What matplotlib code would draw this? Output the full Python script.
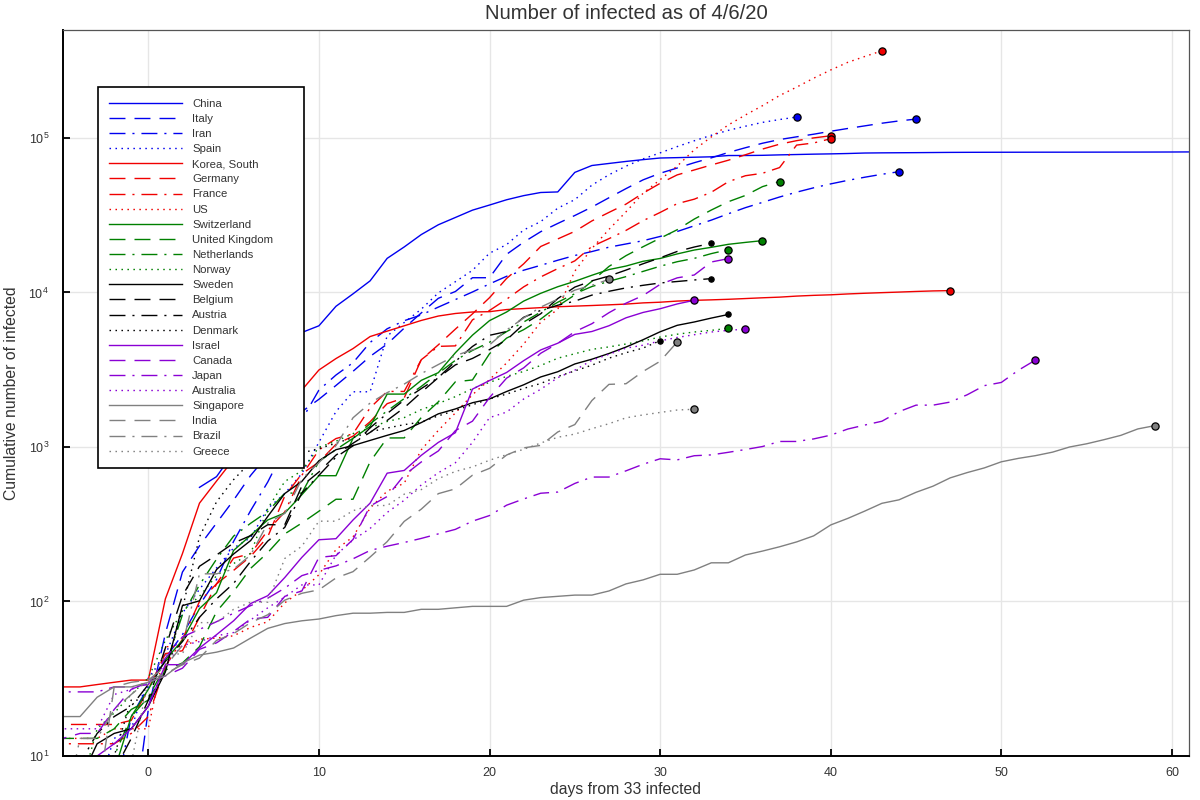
import matplotlib
matplotlib.use("Agg")
import matplotlib.pyplot as plt
from matplotlib.ticker import NullLocator, FixedLocator

plt.rcParams['font.family'] = ['Liberation Sans', 'DejaVu Sans']
plt.rcParams['lines.scale_dashes'] = False

##############################
# Data: cumulative confirmed cases, daily, each list ends on 4/6/20

THRESHOLD = 33
CHINA_FIRST_DAY = 3   # China never was below 33, its first point sits at day 3

china = [548, 643, 920, 1406, 2075, 2877, 5509, 6087, 8141, 9802,
         11891, 16630, 19716, 23707, 27440, 30587, 34110, 36814, 39829, 42354,
         44386, 44759, 59895, 66358, 68413, 70513, 72434, 74211, 74619, 75077,
         75550, 77001, 77022, 77241, 77754, 78166, 78600, 78928, 79356,
         79932, 80136, 80261, 80386, 80537, 80690, 80770, 80823, 80860, 80887,
         80921, 80932, 80945, 80977, 81003, 81033, 81058, 81102, 81156, 81250,
         81305, 81435, 81498, 81591, 81661, 81782, 81897, 81999, 82122, 82198,
         82279,
         82361, 82432, 82511, 82543, 82602, 82665]
italy = [3, 3, 3, 3, 3, 3, 20, 62, 155, 229, 322, 453, 655, 888, 1128,
         1694, 2036, 2502, 3089, 3858, 4636, 5883, 7375, 9172, 10149,
         12462, 12462, 17660, 21157, 24747, 27980, 31506, 35713, 41035, 47021,
         53578, 59138, 63927, 69176, 74386, 80589, 86498, 92472, 97689, 101739,
         105792,
         110574, 115242, 119827, 124632, 128948, 132547]
iran = [2, 5, 18, 28, 43, 61, 95, 139, 245, 388, 593,
        978, 1501, 2336, 2922, 3513, 4747, 5823, 6566, 7161, 8042,
        9000, 10075, 11364, 12729, 13938, 14991, 16169, 17361, 18407, 19644,
        20610, 21638, 23049, 24811, 27017, 29406, 32332, 35408, 38309, 41495,
        44605,
        47593, 50468, 53183, 55743, 58226, 60500]
spain = [2, 2, 2, 6, 13, 15, 32, 45,
         84, 120, 165, 222, 259, 400, 500, 673, 1073, 1695,
         2277, 2277, 5232, 6391, 7798, 9942, 11748, 13910, 17963, 20410,
         25374, 28768, 35136, 39885, 49515, 57786, 65719, 73235, 80110, 87956,
         95923,
         104118, 112065, 119199, 126168, 131646, 136675]
korea = [28, 28, 28, 29, 30, 31, 31, 104, 204, 433, 602, 833, 977, 1261,
         1766, 2337, 3150,
         3736, 4335, 5186, 5621, 6088, 6593, 7041, 7314, 7478, 7513,
         7755, 7869, 7979, 8086, 8162, 8236, 8320, 8413, 8565, 8652,
         8799, 8897, 8961, 9037, 9137, 9241, 9332, 9478, 9583, 9661,
         9786,
         9887, 9976, 10062, 10156, 10237, 10284]
germany = [16, 16, 16, 16, 16, 17, 27, 46, 48, 79,
           130, 159, 196, 262, 482, 670, 799, 1040, 1176, 1457,
           1908, 2078, 3675, 4585, 5795, 7272, 9257, 12327, 15320, 19848,
           22213, 24873, 29056, 32986, 37323, 43938, 50871, 57695, 62095, 66885,
           71808,
           77872, 84794, 91159, 96092, 100123, 103374]
france = [12, 12, 12, 12, 12, 14, 18, 38, 57, 100,
          130, 191, 204, 288, 380, 656, 957, 1134, 1217, 1792,
          2289, 2289, 3672, 4480, 4513, 6650, 7652, 9043, 10871, 12612,
          14282, 16018, 19856, 22304, 25233, 29155, 32964, 37575, 40174, 44550,
          52128,
          56989, 59105, 64338, 89953, 92839, 98963]
us = [13, 13, 13, 15, 15, 15, 51, 51, 57, 58, 60, 68,
      74, 98, 118, 149, 217, 262, 402, 518, 583, 959,
      1281, 1663, 2179, 2727, 3499, 4632, 6421, 7783, 13747, 19273,
      25600, 33276, 43847, 53740, 65778, 83836, 101657, 121478, 140886, 161807,
      188172,
      213372, 243762, 275586, 308853, 337072, 366614]
switzerland = [1, 1, 8, 8, 18,
               27, 42, 56, 90, 114, 214, 268, 337, 374, 491,
               652, 652, 1139, 1359, 2200, 2200, 2700, 3028, 4075, 5294,
               6575, 7474, 8795, 9877, 10897, 11811, 12928, 14076, 14829, 15922,
               16605,
               17768, 18827, 19606, 20505, 21100, 21657]
uk = [9, 13, 13, 13, 15, 20, 23,
      36, 40, 51, 86, 116, 164, 207, 274, 322, 384,
      459, 459, 802, 1144, 1145, 1551, 1960, 2642, 2716, 4014,
      5067, 5745, 6726, 8164, 9640, 11812, 14745, 17312, 19780, 22453,
      25481,
      29865, 34173, 38689, 42477, 48440, 52279]
netherlands = [1, 1, 6,
               10, 18, 24, 38, 82, 128, 188, 265, 321, 382,
               503, 503, 806, 962, 1138, 1416, 1711, 2058, 2467, 3003,
               3640, 4217, 4764, 5580, 6438, 7468, 8647, 9819, 10930, 11817,
               12667,
               13696, 14788, 15821, 16627, 17851, 18926]
norway = [1, 1, 6, 15,
          19, 25, 32, 56, 87, 108, 147, 176, 205, 400,
          598, 702, 996, 1090, 1221, 1333, 1463, 1550, 1746, 1914,
          2118, 2385, 2621, 2863, 3084, 3369, 3755, 4015, 4284, 4445,
          4641,
          4863, 5147, 5370, 5550, 5687, 5865]
sweden = [2, 7, 7, 12,
          14, 15, 21, 35, 94, 101, 161, 203, 248, 355,
          500, 599, 814, 961, 1022, 1103, 1190, 1279, 1439, 1639,
          1763, 1934, 2046, 2286, 2526, 2840, 3069, 3447, 3700, 4028,
          4435,
          4947, 5568, 6131, 6443, 6830, 7206]
belgium = [1, 1,
           2, 8, 13, 23, 50, 109, 169, 200, 239, 267,
           314, 314, 559, 689, 886, 1058, 1243, 1486, 1795, 2257,
           2815, 3401, 3743, 4269, 4937, 6235, 7284, 9134, 10836, 11899,
           12775,
           13964, 15348, 16770, 18431, 19691, 20814]
austria = [2, 3, 3, 9,
           14, 18, 21, 29, 41, 55, 79, 104, 131, 182,
           246, 302, 504, 655, 860, 1018, 1332, 1646, 2013, 2388,
           2814, 3582, 4474, 5283, 5588, 6909, 7657, 8271, 8788, 9618,
           10180,
           10711, 11129, 11524, 11781, 12051, 12297]
denmark = [4, 4, 6, 10, 10, 23, 23, 35, 90, 262,
           442, 615, 801, 827, 864, 914, 977, 1057, 1151, 1255,
           1326, 1395, 1450, 1591, 1724, 1877, 2046, 2201, 2395, 2577,
           2860,
           3107, 3386, 3757, 4077, 4369, 4875]
israel = [7, 10, 12, 15, 21, 39, 39, 50, 61, 75,
          97, 109, 143, 193, 251, 255, 337, 433, 677, 705,
          883, 1071, 1238, 2369, 2693, 3035, 3619, 4247, 4695, 5358,
          5591,
          6092, 6857, 7428, 7851, 8430, 8904]
canada = [11, 11, 13, 14, 14,
          20, 27, 30, 33, 37, 49, 54, 64, 77, 79,
          108, 117, 193, 198, 252, 415, 478, 657, 800, 943,
          1277, 1469, 2088, 2790, 3251, 4042, 4682, 5576, 6280, 7398,
          8527,
          9560, 11284, 12437, 12978, 15756, 16563]
japan = [25, 26, 26, 26, 28, 28, 29, 43, 59, 66, 74, 84, 94, 105, 122,
         147, 159, 170, 189, 214, 228, 241,
         256, 274, 293, 331, 360, 420, 461, 502, 511, 581,
         639, 639, 701, 773, 839, 825, 878, 889, 924, 963,
         1007, 1086, 1086, 1128, 1193, 1307, 1387, 1468, 1693, 1866,
         1866,
         1953, 2178, 2495, 2617, 3139, 3654]
australia = [15, 15, 15, 15, 15, 25,
             27, 30, 39, 52, 55, 60, 63, 76, 91, 107,
             128, 128, 200, 250, 297, 377, 452, 568, 681, 791,
             1071, 1549, 1682, 2044, 2364, 2810, 3143, 3640, 3984, 4361,
             4559,
             4862, 5116, 5330, 5550, 5687, 5797]
singapore = [7, 7, 10, 13,
             16, 18, 18, 24, 28, 28, 30, 33, 40, 45,
             47, 50, 58, 67, 72, 75, 77, 81, 84, 84,
             85, 85, 89, 89, 91, 93, 93, 93, 102,
             106, 108, 110, 110, 117, 130, 138, 150, 150, 160,
             178, 178, 200, 212, 226, 243, 266, 313, 345, 385,
             432, 455, 509, 558, 631, 683, 732, 802, 844, 879,
             926,
             1000, 1049, 1114, 1189, 1309, 1375]
india = [3, 5, 5, 28, 30, 31, 34, 39, 43, 56,
         62, 73, 82, 102, 113, 119, 142, 156, 194, 244,
         330, 396, 499, 536, 657, 727, 887, 987, 1024, 1251,
         1397,
         1998, 2543, 2567, 3082, 3588, 4778]
brazil = [2, 2, 2, 4, 4, 13, 13, 20, 25, 31,
          38, 52, 151, 151, 162, 200, 321, 372, 621, 793,
          1021, 1546, 1924, 2247, 2554, 2985, 3417, 3904, 4256, 4579,
          5717,
          6836, 8044, 9056, 10360, 11130, 12161]
greece = [7, 7, 7, 9, 31, 45, 46, 73, 73, 89,
          99, 99, 190, 228, 331, 331, 387, 418, 418, 495,
          530, 624, 695, 743, 821, 892, 966, 1061, 1156, 1212,
          1314,
          1415, 1544, 1613, 1673, 1735, 1755]

names = ["China", "Italy", "Iran", "Spain",
         "Korea, South", "Germany", "France", "US",
         "Switzerland", "United Kingdom", "Netherlands", "Norway",
         "Sweden", "Belgium", "Austria", "Denmark",
         "Israel", "Canada", "Japan", "Australia",
         "Singapore", "India", "Brazil", "Greece"]
values = [china, italy, iran, spain,
          korea, germany, france, us,
          switzerland, uk, netherlands, norway,
          sweden, belgium, austria, denmark,
          israel, canada, japan, australia,
          singapore, india, brazil, greece]

##############################
# Styles

group_colors = ["#0000f0", "#f00000", "#008000", "#000000", "#8a00d4", "#808080"]
styles = ["-", (0, (11.5, 6.5)), (0, (11.5, 5.0, 1.5, 5.0)), (0, (1.1, 3.2))]


def days_from_threshold(vals):
    below = [i for i, v in enumerate(vals) if v < THRESHOLD]
    if below:
        start = -below[-1]
    else:
        start = CHINA_FIRST_DAY
    return [start + i for i in range(len(vals))]


fig = plt.figure(figsize=(12, 8), dpi=100)
ax = fig.add_axes([63 / 1200, 44 / 800, 1126 / 1200, 726 / 800])

ends = []
for k, (name, vals) in enumerate(zip(names, values)):
    color = group_colors[k // 4]
    x = days_from_threshold(vals)
    ax.plot(x, vals, color=color, linestyle=styles[k % 4], lw=1.0, label=name)
    ends.append((x[-1], vals[-1], color))

for x_end, v_end, color in ends:
    small = color == "#000000"
    ax.plot(x_end, v_end, "o", ms=3.8 if small else 5.2, mfc=color,
            mec="black", mew=0.9, zorder=5, clip_on=True)

ax.set_yscale("log")
ax.set_xlim(-5, 61)
ax.set_ylim(10, 5.0e5)
ax.xaxis.set_major_locator(FixedLocator([0, 10, 20, 30, 40, 50, 60]))
ax.yaxis.set_minor_locator(NullLocator())
ax.grid(True, color="#e6e6e6", lw=1.0)
ax.set_axisbelow(True)

ax.tick_params(direction="in", length=5, width=1.3, colors="black",
               labelcolor="#333333", labelsize=9, top=False, right=False)
ax.tick_params(axis="y", pad=10)
ax.tick_params(axis="x", pad=8)
for side in ["left", "bottom"]:
    ax.spines[side].set_linewidth(1.4)
    ax.spines[side].set_color("black")
for side in ["top", "right"]:
    ax.spines[side].set_linewidth(0.9)
    ax.spines[side].set_color("#555555")

ax.set_title("Number of infected as of 4/6/20", fontsize=14.6, color="#333333", pad=8)
ax.set_xlabel("days from 33 infected", fontsize=11.3, color="#333333", labelpad=2)
ax.set_ylabel("Cumulative number of infected", fontsize=11.3, color="#333333", labelpad=7)

leg = ax.legend(loc="upper left", bbox_to_anchor=(0.0311, 0.401, 0.183, 0.520),
                mode="expand", borderaxespad=0,
                fontsize=8.2, handlelength=6.4, handletextpad=0.88,
                labelspacing=0.45, borderpad=1.0, fancybox=False, framealpha=1)
leg.get_frame().set_edgecolor("black")
leg.get_frame().set_linewidth(1.2)
for t in leg.get_texts():
    t.set_color("#333333")

fig.savefig("out.png", dpi=100)
